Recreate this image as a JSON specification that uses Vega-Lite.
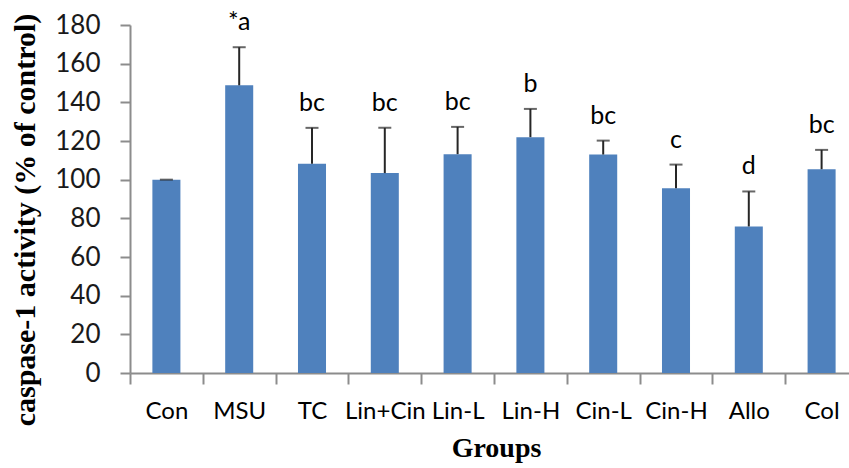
{
  "$schema": "https://vega.github.io/schema/vega-lite/v6.json",
  "autosize": "none",
  "width": 719,
  "height": 348,
  "padding": {"left": 130, "top": 25, "right": 0, "bottom": 95},
  "background": "white",
  "config": {
    "view": {"stroke": null},
    "axisY": {
      "grid": false,
      "titleFont": "Liberation Serif",
      "titleFontWeight": "bold",
      "titleFontSize": 30,
      "titleColor": "#000000",
      "titleAngle": -90,
      "titleAlign": "center",
      "titleBaseline": "alphabetic",
      "titleX": -95.5,
      "titleY": 194.5,
      "labelFont": "Lato",
      "labelFontSize": 26,
      "labelColor": "#1a1a1a",
      "labelPadding": 20,
      "labelOverlap": false,
      "labelFlush": false,
      "labelBound": false,
      "tickSize": 10,
      "tickColor": "#8c8c8c",
      "tickWidth": 2,
      "domainColor": "#8c8c8c",
      "domainWidth": 2
    }
  },
  "data": {
    "values": [
      {"group": "Con", "mean": 100, "upper": 100, "sig": ""},
      {"group": "MSU", "mean": 148.8, "upper": 168.5, "sig": "*a"},
      {"group": "TC", "mean": 108.2, "upper": 126.8, "sig": "bc"},
      {"group": "Lin+Cin", "mean": 103.4, "upper": 126.8, "sig": "bc"},
      {"group": "Lin-L", "mean": 113.2, "upper": 127.3, "sig": "bc"},
      {"group": "Lin-H", "mean": 122, "upper": 136.6, "sig": "b"},
      {"group": "Cin-L", "mean": 113, "upper": 120.2, "sig": "bc"},
      {"group": "Cin-H", "mean": 95.6, "upper": 107.8, "sig": "c"},
      {"group": "Allo", "mean": 75.8, "upper": 93.9, "sig": "d"},
      {"group": "Col", "mean": 105.4, "upper": 115.4, "sig": "bc"}
    ]
  },
  "encoding": {
    "x": {
      "field": "group",
      "type": "nominal",
      "sort": null,
      "scale": {"paddingInner": 0, "paddingOuter": 0, "range": [0, 728]},
      "axis": {
        "title": "Groups",
        "titleFont": "Liberation Serif",
        "titleFontWeight": "bold",
        "titleFontSize": 28,
        "titleColor": "#000000",
        "titleBaseline": "alphabetic",
        "titleY": 83,
        "titleX": 366,
        "titleAlign": "center",
        "labelFont": "Lato",
        "labelFontSize": 24,
        "labelColor": "#000000",
        "labelAngle": 0,
        "labelPadding": 15,
        "labelOverlap": false,
        "labelFlush": false,
        "labelBound": false,
        "tickSize": 11,
        "tickBand": "extent",
        "tickColor": "#8c8c8c",
        "tickWidth": 2,
        "domainColor": "#8c8c8c",
        "domainWidth": 2
      }
    }
  },
  "layer": [
    {
      "mark": {"type": "bar", "color": "#4F81BD", "width": {"band": 0.385}},
      "encoding": {
        "y": {
          "field": "mean",
          "type": "quantitative",
          "scale": {"domain": [0, 180], "nice": false},
          "axis": {"values": [0, 20, 40, 60, 80, 100, 120, 140, 160, 180], "title": "caspase-1 activity (% of control)"}
        }
      }
    },
    {
      "mark": {"type": "rule", "color": "#262626", "strokeWidth": 2},
      "encoding": {
        "y": {
          "field": "mean",
          "type": "quantitative",
          "axis": {"values": [0, 20, 40, 60, 80, 100, 120, 140, 160, 180], "title": "caspase-1 activity (% of control)"}
        },
        "y2": {"field": "upper"}
      }
    },
    {
      "mark": {"type": "tick", "color": "#262626", "size": 13, "thickness": 2},
      "encoding": {
        "y": {
          "field": "upper",
          "type": "quantitative",
          "axis": {"values": [0, 20, 40, 60, 80, 100, 120, 140, 160, 180], "title": "caspase-1 activity (% of control)"}
        }
      }
    },
    {
      "mark": {"type": "text", "font": "Lato", "fontSize": 25, "color": "#000000", "baseline": "alphabetic", "dy": -17},
      "encoding": {
        "y": {
          "field": "upper",
          "type": "quantitative",
          "axis": {"values": [0, 20, 40, 60, 80, 100, 120, 140, 160, 180], "title": "caspase-1 activity (% of control)"}
        },
        "text": {"field": "sig"}
      }
    }
  ]
}
